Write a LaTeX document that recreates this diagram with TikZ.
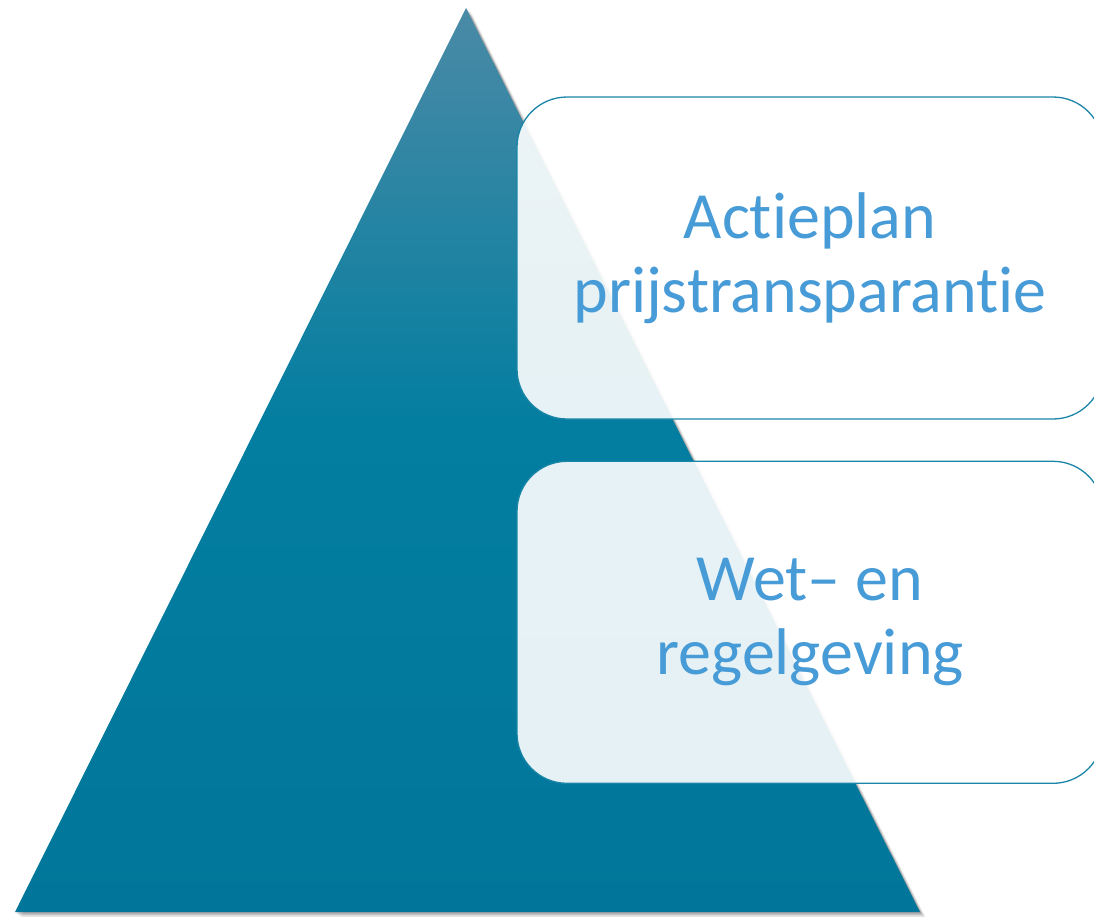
\documentclass[tikz,border=0pt]{standalone}
\usepackage{fontspec}
\setmainfont{Carlito}[Ligatures={TeX,NoCommon}]
\usepackage{tikz}
\usetikzlibrary{positioning}

\definecolor{triTop}{HTML}{4A8AA6}
\definecolor{triMid}{HTML}{037EA0}
\definecolor{triBot}{HTML}{01769A}
\definecolor{boxLine}{HTML}{1B85A8}
\definecolor{boxText}{HTML}{479BD6}

\pgfdeclareverticalshading{pyramid}{100bp}{color(0bp)=(triBot); color(25bp)=(triBot);
  color(52bp)=(triMid); color(75bp)=(triTop); color(100bp)=(triTop)}

\tikzset{
  levelbox/.style={draw=boxLine, line width=1.3pt, fill=white, fill opacity=0.9,
                   text opacity=1, rounded corners=50pt, minimum width=586pt,
                   minimum height=322pt, text=boxText, align=center,
                   font=\fontsize{66}{74}\selectfont},
}

\begin{document}
\begin{tikzpicture}[x=1pt,y=-1pt]
  \useasboundingbox (0,0) rectangle (1094,916);

  % soft shadow
  \foreach \s/\o in {6/0.06,4.5/0.08,3/0.12,1.5/0.15}
    \fill[black, opacity=\o] (466+\s,8+\s) -- (920+\s,912+\s) -- (15+\s,912+\s) -- cycle;

  % pyramid
  \shade[shading=pyramid]
        (466,8) coordinate (apex) -- (920,912) coordinate (baseR)
        -- (15,912) coordinate (baseL) -- cycle;

  % levels
  \node[levelbox] (plan) at (810,258) {Actieplan\\prijstransparantie};
  \node[levelbox] (wet)  [below=41pt of plan] {Wet– en\\regelgeving};
\end{tikzpicture}
\end{document}
